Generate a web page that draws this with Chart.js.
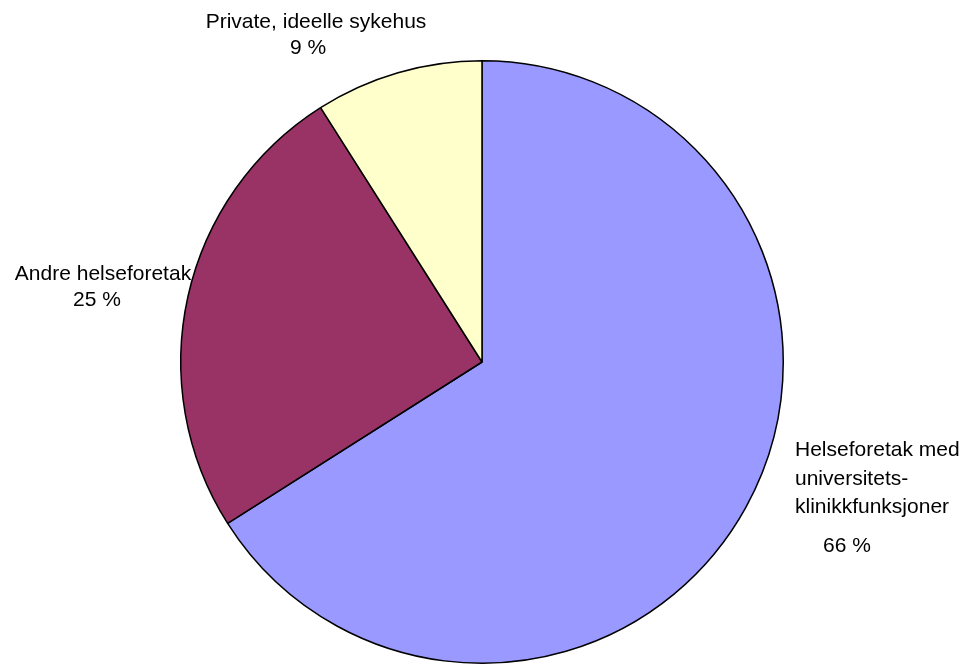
<!DOCTYPE html>
<html>
<head>
<meta charset="utf-8">
<script src="https://cdn.jsdelivr.net/npm/chart.js@4"></script>
<style>
  html, body { margin: 0; padding: 0; background: #fff; }
  #wrap { width: 972px; height: 666px; position: relative; }
</style>
</head>
<body>
<div id="wrap"><canvas id="pie" width="972" height="666"></canvas></div>
<script>
  // Andel per sykehustype, med klokka fra toppen
  var categories = [
    ['Helseforetak med', 'universitets-', 'klinikkfunksjoner'],
    ['Andre helseforetak'],
    ['Private, ideelle sykehus']
  ];
  var shares = [66, 25, 9];
  var sliceColors = ['#9999FF', '#993366', '#FFFFCC'];

  // Plassering av etikettene (x, første grunnlinje, justering, luft før prosent)
  var labelLayout = [
    { x: 795, y: 456, align: 'left', pctX: 823, gap: 39 },
    { x: 103, y: 280, align: 'center', pctX: 97, gap: 0 },
    { x: 316, y: 28, align: 'center', pctX: 308, gap: 0 }
  ];

  var sliceLabels = {
    id: 'sliceLabels',
    afterDraw: function(chart) {
      var ctx = chart.ctx;
      ctx.save();
      ctx.fillStyle = '#000';
      ctx.font = '21px "Liberation Sans", Arial, sans-serif';
      ctx.textBaseline = 'alphabetic';
      var lineH = 26;
      categories.forEach(function(lines, i) {
        var p = labelLayout[i];
        ctx.textAlign = p.align;
        var y = p.y;
        lines.forEach(function(t, k) {
          ctx.fillText(t, p.x, y);
          if (k < lines.length - 1) y += (p.align === 'left' ? 28.5 : lineH);
        });
        y += p.gap || lineH;
        ctx.textAlign = p.align === 'left' ? 'left' : 'center';
        ctx.fillText(shares[i] + ' %', p.pctX, y);
      });
      ctx.restore();
    }
  };

  new Chart(document.getElementById('pie'), {
    type: 'pie',
    data: {
      labels: categories.map(function(l) { return l.join(' '); }),
      datasets: [{
        data: shares,
        backgroundColor: sliceColors,
        borderColor: '#000',
        borderWidth: 1.5,
        borderAlign: 'center'
      }]
    },
    options: {
      responsive: false,
      animation: false,
      layout: { padding: { left: 180, right: 188, top: 60, bottom: 2 } },
      plugins: {
        legend: { display: false },
        tooltip: { enabled: false }
      }
    },
    plugins: [sliceLabels]
  });
</script>
</body>
</html>
